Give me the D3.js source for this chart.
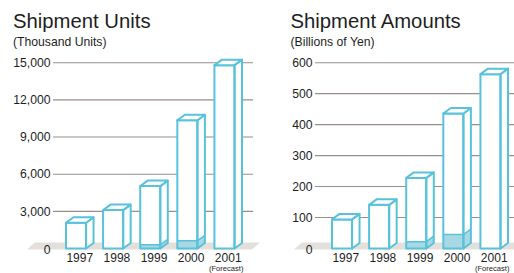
<!DOCTYPE html>
<html>
<head>
<meta charset="utf-8">
<script src="https://cdn.jsdelivr.net/npm/d3@7"></script>
<style>
  html, body { margin: 0; padding: 0; background: #fff; }
  svg { display: block; font-family: "Liberation Sans", Arial, Helvetica, sans-serif; }
</style>
</head>
<body>
<svg id="chart" width="514" height="273"></svg>
<script>
// ---- data ----
const years = ["1997", "1998", "1999", "2000", "2001"];
const unitsTotal = [2080, 3100, 5040, 10350, 14800];      // thousand units
const unitsFilled = [0, 0, 300, 620, 0];                   // shaded lower part
const amountsTotal = [94, 141, 228, 436, 563];             // billions of yen
const amountsFilled = [0, 0, 22, 45, 0];
const unitsTicks = [3000, 6000, 9000, 12000, 15000];
const amountsTicks = [100, 200, 300, 400, 500, 600];
const forecastNote = "(Forecast)";

const svg = d3.select("#chart");
const stroke = "#58c2dc";
const fillLight = "#a9d8e5";
const gridColor = "#978e89";
const floorColor = "#e3dfdb";
const textColor = "#1e1e1e";

function panel(opts) {
  const g = svg.append("g");
  const y = d3.scaleLinear().domain([0, opts.max]).range([248.5, 62.7]);
  const x = d3.scaleBand().domain(years).range(opts.barRange)
    .paddingInner(17 / 37).paddingOuter(0);
  const w = x.bandwidth(), dx = 7.5, dy = 5.5;

  // title
  g.append("text").attr("x", opts.titleX).attr("y", 28)
    .attr("font-size", 20.3).attr("fill", textColor).text(opts.title);
  g.append("text").attr("x", opts.titleX).attr("y", 46)
    .attr("font-size", 12.2).attr("fill", textColor).text(opts.subtitle);

  // floor
  const y0 = y(0);
  g.append("path")
    .attr("d", `M${opts.floor[0]},${y0 + 1} L${opts.floor[0] + 8},${y0 - 6} L${opts.floor[1] + 8},${y0 - 6} L${opts.floor[1]},${y0 + 1} Z`)
    .attr("fill", floorColor);

  // gridlines
  g.selectAll("line.grid").data(opts.ticks).join("line")
    .attr("x1", opts.gridRange[0]).attr("x2", opts.gridRange[1])
    .attr("y1", d => y(d)).attr("y2", d => y(d))
    .attr("stroke", gridColor).attr("stroke-width", 1.1);

  // y tick labels
  const fmt = d3.format(",");
  g.selectAll("text.tick").data([0].concat(opts.ticks)).join("text")
    .attr("x", opts.labelX).attr("y", d => y(d) + (d === 0 ? 1.5 : 0))
    .attr("dy", "0.35em").attr("text-anchor", "end")
    .attr("font-size", 12.2).attr("fill", textColor)
    .text(d => fmt(d));

  // bars
  years.forEach((yr, i) => {
    const x0 = x(yr);
    const yt = y(opts.total[i]);
    const bg = g.append("g");
    const frontD = `M${x0},${yt} L${x0 + w},${yt} L${x0 + w},${y0} L${x0},${y0} Z`;
    const sideD = `M${x0 + w},${yt} L${x0 + w + dx},${yt - dy} L${x0 + w + dx},${y0 - dy} L${x0 + w},${y0} Z`;
    const topD = `M${x0},${yt} L${x0 + dx},${yt - dy} L${x0 + w + dx},${yt - dy} L${x0 + w},${yt} Z`;
    // white backgrounds
    bg.append("path").attr("d", frontD).attr("fill", "#fff");
    bg.append("path").attr("d", sideD).attr("fill", "#fff");
    // filled lower portion
    if (opts.filled[i] > 0) {
      const yf = y(opts.filled[i]);
      bg.append("rect").attr("x", x0).attr("y", yf).attr("width", w).attr("height", y0 - yf)
        .attr("fill", fillLight);
      bg.append("path")
        .attr("d", `M${x0 + w},${yf} L${x0 + w + dx},${yf - dy} L${x0 + w + dx},${y0 - dy} L${x0 + w},${y0} Z`)
        .attr("fill", fillLight);
      bg.append("path")
        .attr("d", `M${x0},${yf} L${x0 + w},${yf} L${x0 + w + dx},${yf - dy}`)
        .attr("fill", "none").attr("stroke", stroke).attr("stroke-width", 1.6);
    }
    // outlines
    bg.append("path").attr("d", frontD).attr("fill", "none")
      .attr("stroke", stroke).attr("stroke-width", 2).attr("stroke-linejoin", "round");
    bg.append("path").attr("d", sideD).attr("fill", "none")
      .attr("stroke", stroke).attr("stroke-width", 2).attr("stroke-linejoin", "round");
    bg.append("path").attr("d", topD).attr("fill", "#fff")
      .attr("stroke", stroke).attr("stroke-width", 2).attr("stroke-linejoin", "round");
    // year label
    g.append("text").attr("x", x0 + w / 2 + dx / 2).attr("y", 262)
      .attr("text-anchor", "middle").attr("font-size", 12).attr("fill", textColor)
      .text(yr);
    if (i === years.length - 1) {
      g.append("text").attr("x", x0 + w / 2 + dx / 2 - 2).attr("y", 271.3)
        .attr("text-anchor", "middle").attr("font-size", 7.6).attr("fill", textColor)
        .text(forecastNote);
    }
  });
  return g;
}

panel({
  title: "Shipment Units", subtitle: "(Thousand Units)", titleX: 13,
  max: 15000, ticks: unitsTicks, total: unitsTotal, filled: unitsFilled,
  barRange: [66, 234.5], gridRange: [53, 253], labelX: 50.5, floor: [27, 252]
});
panel({
  title: "Shipment Amounts", subtitle: "(Billions of Yen)", titleX: 290.5,
  max: 600, ticks: amountsTicks, total: amountsTotal, filled: amountsFilled,
  barRange: [332, 500.5], gridRange: [315, 514], labelX: 312.5, floor: [294, 520]
});
</script>
</body>
</html>
